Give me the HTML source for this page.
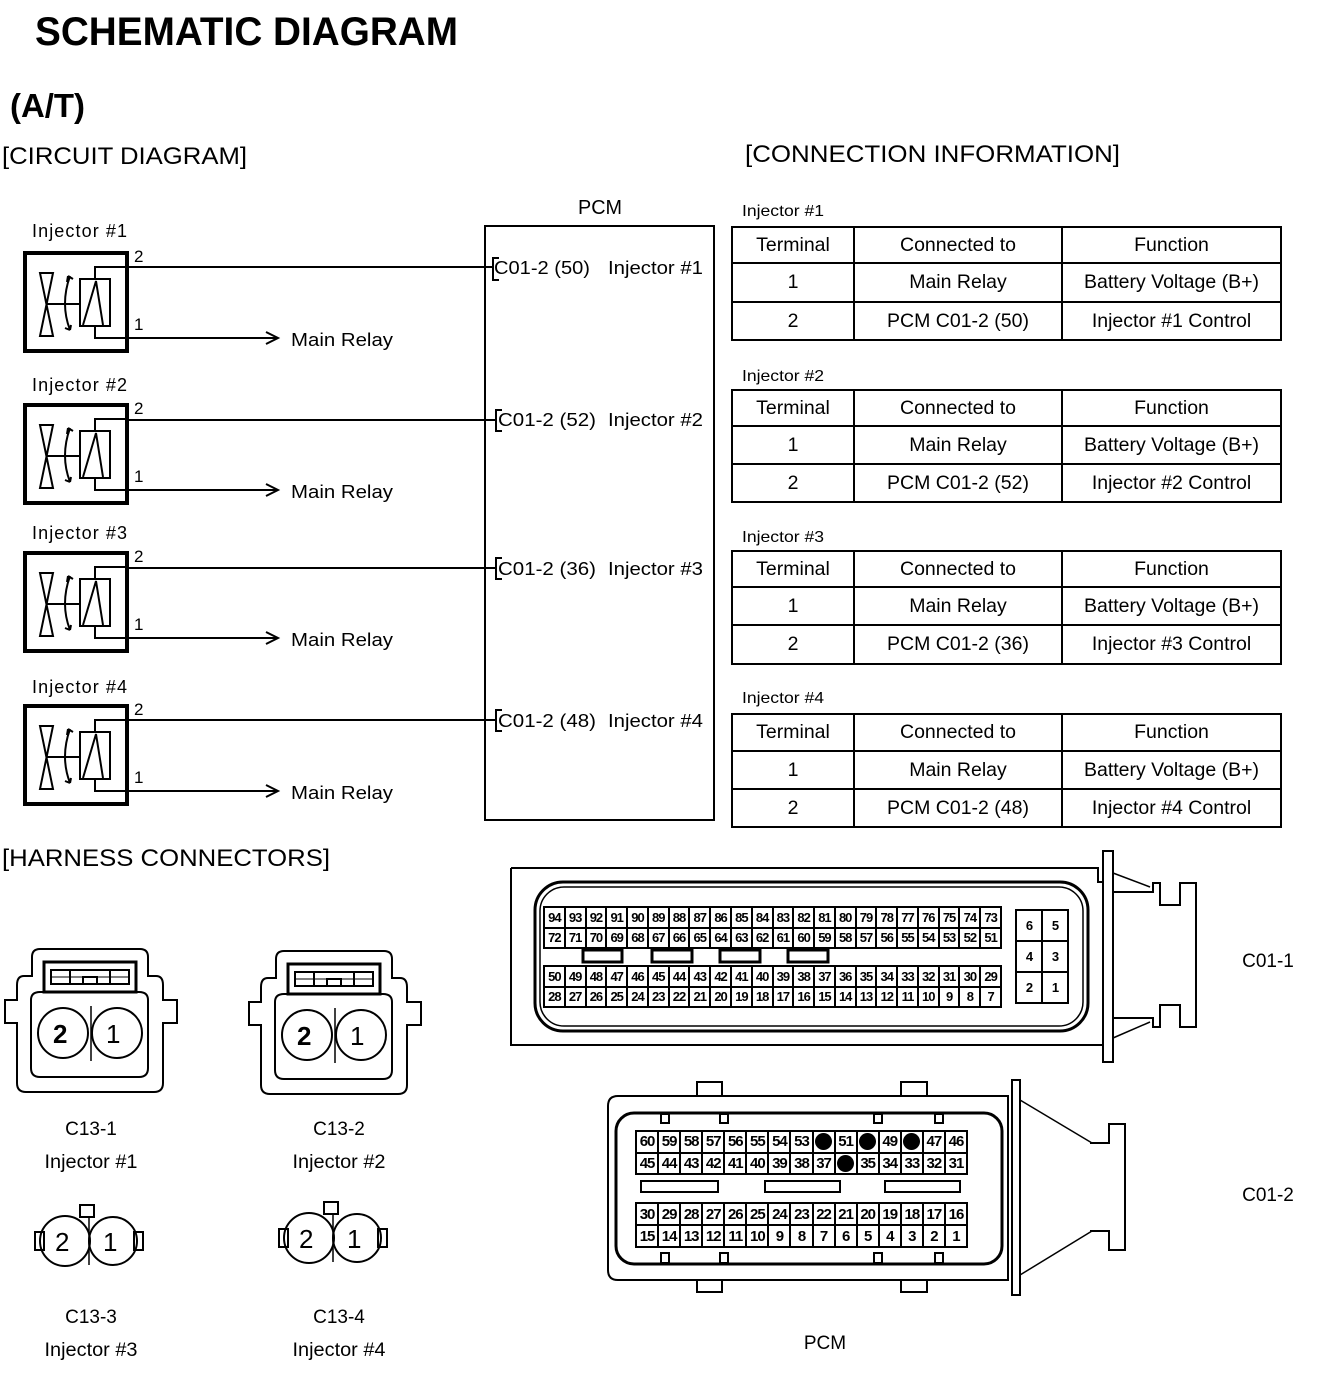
<!DOCTYPE html>
<html><head><meta charset="utf-8"><style>
html,body{margin:0;padding:0;background:#fff;}
body{width:1328px;height:1388px;position:relative;overflow:hidden;font-family:"Liberation Sans",Arial,sans-serif;}
svg{position:absolute;left:0;top:0;}
.g{position:absolute;display:grid;border-left:2px solid #000;border-top:2px solid #000;box-sizing:border-box;}
.g span{border-right:2px solid #000;border-bottom:2px solid #000;display:flex;align-items:center;justify-content:center;font-size:13px;letter-spacing:-1px;font-weight:bold;overflow:hidden;}
.g.b span{font-size:15px;}
.g span i{display:block;width:17px;height:17px;border-radius:50%;background:#000;}
table.t{position:absolute;left:731px;width:551px;border-collapse:collapse;font-size:19.5px;}
table.t td{border:2px solid #000;text-align:center;padding:0;}
</style></head><body>
<svg width="1328" height="1388" viewBox="0 0 1328 1388" font-family="Liberation Sans, Arial, sans-serif">
<text x="35" y="45" font-size="40" font-weight="bold" textLength="423" lengthAdjust="spacingAndGlyphs">SCHEMATIC DIAGRAM</text>
<text x="10" y="117" font-size="33" font-weight="bold" textLength="75" lengthAdjust="spacingAndGlyphs">(A/T)</text>
<text x="2" y="164" font-size="24" textLength="245" lengthAdjust="spacingAndGlyphs">[CIRCUIT DIAGRAM]</text>
<text x="745" y="162" font-size="24" textLength="375" lengthAdjust="spacingAndGlyphs">[CONNECTION INFORMATION]</text>
<text x="2" y="866" font-size="24" textLength="328" lengthAdjust="spacingAndGlyphs">[HARNESS CONNECTORS]</text>

<text x="578" y="214" font-size="20" textLength="44" lengthAdjust="spacingAndGlyphs">PCM</text>
<rect x="485" y="226" width="229" height="594" fill="none" stroke="#000" stroke-width="2"/>

<defs>
<g id="inj">
<rect x="25" y="253" width="102" height="98" fill="none" stroke="#000" stroke-width="4"/>
<polygon points="40,273 53,273 40,336 53,336" fill="none" stroke="#000" stroke-width="2"/>
<line x1="46" y1="304" x2="80" y2="304" stroke="#000" stroke-width="2"/>
<path d="M70,276 Q60,304 70,330" fill="none" stroke="#000" stroke-width="2"/>
<path d="M68,276 l-1,6 M68,276 l5,3 M70,330 l-5,-2 M70,330 l1,-5" stroke="#000" stroke-width="2"/>
<rect x="80" y="279" width="30" height="47" fill="none" stroke="#000" stroke-width="2"/>
<polyline points="83,325 96,281 103,325" fill="none" stroke="#000" stroke-width="2"/>
<polyline points="95,279 95,267 127,267" fill="none" stroke="#000" stroke-width="2"/>
<polyline points="95,326 95,338 278,338" fill="none" stroke="#000" stroke-width="2"/>
<polyline points="266,332 278,338 266,344" fill="none" stroke="#000" stroke-width="2"/>
<text x="134" y="262" font-size="17">2</text>
<text x="134" y="330" font-size="17">1</text>
<text x="291" y="346" font-size="18" textLength="102" lengthAdjust="spacingAndGlyphs">Main Relay</text>
</g>
</defs>
<use href="#inj"/>
<use href="#inj" transform="translate(0,152)"/>
<use href="#inj" transform="translate(0,300)"/>
<use href="#inj" transform="translate(0,453)"/>
<g font-size="18" lengthAdjust="spacingAndGlyphs">
<text x="32" y="237" textLength="95">Injector #1</text>
<text x="32" y="391" textLength="95">Injector #2</text>
<text x="32" y="539" textLength="95">Injector #3</text>
<text x="32" y="693" textLength="95">Injector #4</text>
</g>

<g stroke="#000" stroke-width="2" fill="none">
<line x1="127" y1="267" x2="493" y2="267"/>
<line x1="127" y1="420" x2="496" y2="420"/>
<line x1="127" y1="568" x2="496" y2="568"/>
<line x1="127" y1="720" x2="496" y2="720"/>
<polyline points="499,258 493,258 493,280 499,280"/>
<polyline points="502,410 496,410 496,431 502,431"/>
<polyline points="502,558 496,558 496,579 502,579"/>
<polyline points="502,710 496,710 496,731 502,731"/>
</g>
<g font-size="18">
<text x="494" y="274" textLength="96" lengthAdjust="spacingAndGlyphs">C01-2 (50)</text><text x="608" y="274" textLength="95" lengthAdjust="spacingAndGlyphs">Injector #1</text>
<text x="498" y="426" textLength="98" lengthAdjust="spacingAndGlyphs">C01-2 (52)</text><text x="608" y="426" textLength="95" lengthAdjust="spacingAndGlyphs">Injector #2</text>
<text x="498" y="575" textLength="98" lengthAdjust="spacingAndGlyphs">C01-2 (36)</text><text x="608" y="575" textLength="95" lengthAdjust="spacingAndGlyphs">Injector #3</text>
<text x="498" y="727" textLength="98" lengthAdjust="spacingAndGlyphs">C01-2 (48)</text><text x="608" y="727" textLength="95" lengthAdjust="spacingAndGlyphs">Injector #4</text>
</g>

<g font-size="16">
<text x="742" y="216" textLength="82" lengthAdjust="spacingAndGlyphs">Injector #1</text>
<text x="742" y="381" textLength="82" lengthAdjust="spacingAndGlyphs">Injector #2</text>
<text x="742" y="542" textLength="82" lengthAdjust="spacingAndGlyphs">Injector #3</text>
<text x="742" y="703" textLength="82" lengthAdjust="spacingAndGlyphs">Injector #4</text>
</g>

<defs>
<g id="big">
<path d="M40,949 L140,949 Q148,949 148,957 L148,976 L156,976 Q163,976 163,985 L163,1000 L177,1000 L177,1023 L163,1023 L163,1083 Q163,1092 154,1092 L26,1092 Q17,1092 17,1083 L17,1023 L5,1023 L5,1000 L17,1000 L17,985 Q17,976 24,976 L32,976 L32,957 Q32,949 40,949 Z" fill="none" stroke="#000" stroke-width="2"/>
<path d="M44,992 L40,992 Q31,992 31,1000 L31,1068 Q31,1077 40,1077 L139,1077 Q148,1077 148,1068 L148,1000 Q148,992 139,992 L136,992" fill="none" stroke="#000" stroke-width="2"/>
<rect x="44" y="962" width="92" height="30" fill="none" stroke="#000" stroke-width="3"/>
<rect x="51" y="970" width="78" height="14" fill="none" stroke="#000" stroke-width="2"/>
<line x1="70" y1="970" x2="70" y2="984" stroke="#000" stroke-width="2"/>
<line x1="110" y1="970" x2="110" y2="984" stroke="#000" stroke-width="2"/>
<rect x="83" y="977" width="14" height="7" fill="none" stroke="#000" stroke-width="2"/>
<line x1="51" y1="977" x2="129" y2="977" stroke="#000" stroke-width="1"/>
<circle cx="63" cy="1033" r="25" fill="none" stroke="#000" stroke-width="2"/>
<circle cx="117" cy="1033" r="25" fill="none" stroke="#000" stroke-width="2"/>
<line x1="91" y1="1006" x2="91" y2="1061" stroke="#000" stroke-width="1.5"/>
<text x="53" y="1043" font-size="26" font-weight="bold">2</text>
<text x="106" y="1043" font-size="26">1</text>
</g>
<g id="small">
<circle cx="65" cy="1241" r="25" fill="none" stroke="#000" stroke-width="2"/>
<circle cx="113" cy="1241" r="24" fill="none" stroke="#000" stroke-width="2"/>
<rect x="35" y="1232" width="9" height="18" fill="none" stroke="#000" stroke-width="2"/>
<rect x="134" y="1232" width="9" height="18" fill="none" stroke="#000" stroke-width="2"/>
<rect x="80" y="1205" width="14" height="12" fill="none" stroke="#000" stroke-width="2"/>
<line x1="89" y1="1217" x2="89" y2="1265" stroke="#000" stroke-width="1.5"/>
<text x="55" y="1251" font-size="26">2</text>
<text x="103" y="1251" font-size="26">1</text>
</g>
</defs>
<use href="#big"/>
<use href="#big" transform="translate(244,2)"/>
<use href="#small"/>
<use href="#small" transform="translate(244,-3)"/>
<g font-size="19" text-anchor="middle">
<text x="91" y="1135">C13-1</text><text x="91" y="1168" textLength="93" lengthAdjust="spacingAndGlyphs">Injector #1</text>
<text x="339" y="1135">C13-2</text><text x="339" y="1168" textLength="93" lengthAdjust="spacingAndGlyphs">Injector #2</text>
<text x="91" y="1323">C13-3</text><text x="91" y="1356" textLength="93" lengthAdjust="spacingAndGlyphs">Injector #3</text>
<text x="339" y="1323">C13-4</text><text x="339" y="1356" textLength="93" lengthAdjust="spacingAndGlyphs">Injector #4</text>
<text x="825" y="1349">PCM</text>
<text x="1268" y="967">C01-1</text>
<text x="1268" y="1201">C01-2</text>
</g>

<g stroke="#000" fill="none">
<path d="M511,868 L1098,868 L1098,882 L1103,882 M511,868 L511,1045 L1103,1045" stroke-width="2"/>
<rect x="535" y="882" width="553" height="149" rx="28" stroke-width="3"/>
<rect x="540" y="887" width="543" height="139" rx="24" stroke-width="1.5"/>
<rect x="1103" y="851" width="10" height="211" stroke-width="2"/>
<path d="M1113,892 L1153,892 L1153,883 L1160,883 L1160,905 L1180,905 L1180,883 L1196,883 L1196,1027 L1180,1027 L1180,1005 L1160,1005 L1160,1027 L1153,1027 L1153,1018 L1113,1018" stroke-width="2"/>
<line x1="1113" y1="873" x2="1150" y2="887" stroke-width="1.5"/>
<line x1="1113" y1="1038" x2="1150" y2="1022" stroke-width="1.5"/>
<rect x="583" y="950" width="39" height="12" stroke-width="3"/>
<rect x="652" y="950" width="40" height="12" stroke-width="3"/>
<rect x="720" y="950" width="40" height="12" stroke-width="3"/>
<rect x="788" y="950" width="40" height="12" stroke-width="3"/>
</g>

<g stroke="#000" fill="none">
<rect x="697" y="1082" width="25" height="16" stroke-width="2"/>
<rect x="901" y="1082" width="26" height="16" stroke-width="2"/>
<rect x="697" y="1278" width="25" height="14" stroke-width="2"/>
<rect x="901" y="1278" width="26" height="14" stroke-width="2"/>
<path d="M618,1096 L1008,1096 L1008,1280 L618,1280 Q608,1280 608,1270 L608,1106 Q608,1096 618,1096 Z" stroke-width="2" fill="#fff"/>
<rect x="616" y="1113" width="386" height="151" rx="18" stroke-width="3"/>
<rect x="1012" y="1080" width="8" height="215" stroke-width="2"/>
<line x1="1020" y1="1100" x2="1092" y2="1143" stroke-width="1.5"/>
<line x1="1020" y1="1275" x2="1092" y2="1231" stroke-width="1.5"/>
<path d="M1090,1143 L1109,1143 L1109,1124 L1125,1124 L1125,1250 L1109,1250 L1109,1231 L1090,1231" stroke-width="2"/>
<rect x="661" y="1114" width="8" height="9" stroke-width="2"/>
<rect x="720" y="1114" width="8" height="9" stroke-width="2"/>
<rect x="874" y="1114" width="8" height="9" stroke-width="2"/>
<rect x="935" y="1114" width="8" height="9" stroke-width="2"/>
<rect x="661" y="1253" width="8" height="10" stroke-width="2"/>
<rect x="720" y="1253" width="8" height="10" stroke-width="2"/>
<rect x="874" y="1253" width="8" height="10" stroke-width="2"/>
<rect x="935" y="1253" width="8" height="10" stroke-width="2"/>
<rect x="641" y="1181" width="77" height="11" stroke-width="2"/>
<rect x="765" y="1181" width="75" height="11" stroke-width="2"/>
<rect x="885" y="1181" width="75" height="11" stroke-width="2"/>
</g>
</svg>

<div class="g" style="left:543px;top:906px;width:459px;height:43px;grid-template-columns:repeat(22,1fr);grid-template-rows:1fr 1fr;">
<span>94</span><span>93</span><span>92</span><span>91</span><span>90</span><span>89</span><span>88</span><span>87</span><span>86</span><span>85</span><span>84</span><span>83</span><span>82</span><span>81</span><span>80</span><span>79</span><span>78</span><span>77</span><span>76</span><span>75</span><span>74</span><span>73</span>
<span>72</span><span>71</span><span>70</span><span>69</span><span>68</span><span>67</span><span>66</span><span>65</span><span>64</span><span>63</span><span>62</span><span>61</span><span>60</span><span>59</span><span>58</span><span>57</span><span>56</span><span>55</span><span>54</span><span>53</span><span>52</span><span>51</span>
</div>
<div class="g" style="left:543px;top:965px;width:459px;height:43px;grid-template-columns:repeat(22,1fr);grid-template-rows:1fr 1fr;">
<span>50</span><span>49</span><span>48</span><span>47</span><span>46</span><span>45</span><span>44</span><span>43</span><span>42</span><span>41</span><span>40</span><span>39</span><span>38</span><span>37</span><span>36</span><span>35</span><span>34</span><span>33</span><span>32</span><span>31</span><span>30</span><span>29</span>
<span>28</span><span>27</span><span>26</span><span>25</span><span>24</span><span>23</span><span>22</span><span>21</span><span>20</span><span>19</span><span>18</span><span>17</span><span>16</span><span>15</span><span>14</span><span>13</span><span>12</span><span>11</span><span>10</span><span>9</span><span>8</span><span>7</span>
</div>
<div class="g" style="left:1015px;top:909px;width:54px;height:95px;grid-template-columns:1fr 1fr;grid-template-rows:1fr 1fr 1fr;">
<span>6</span><span>5</span><span>4</span><span>3</span><span>2</span><span>1</span>
</div>
<div class="g b" style="left:635px;top:1130px;width:333px;height:45px;grid-template-columns:repeat(15,1fr);grid-template-rows:1fr 1fr;">
<span>60</span><span>59</span><span>58</span><span>57</span><span>56</span><span>55</span><span>54</span><span>53</span><span><i></i></span><span>51</span><span><i></i></span><span>49</span><span><i></i></span><span>47</span><span>46</span>
<span>45</span><span>44</span><span>43</span><span>42</span><span>41</span><span>40</span><span>39</span><span>38</span><span>37</span><span><i></i></span><span>35</span><span>34</span><span>33</span><span>32</span><span>31</span>
</div>
<div class="g b" style="left:635px;top:1202px;width:333px;height:46px;grid-template-columns:repeat(15,1fr);grid-template-rows:1fr 1fr;">
<span>30</span><span>29</span><span>28</span><span>27</span><span>26</span><span>25</span><span>24</span><span>23</span><span>22</span><span>21</span><span>20</span><span>19</span><span>18</span><span>17</span><span>16</span>
<span>15</span><span>14</span><span>13</span><span>12</span><span>11</span><span>10</span><span>9</span><span>8</span><span>7</span><span>6</span><span>5</span><span>4</span><span>3</span><span>2</span><span>1</span>
</div>

<table class="t" style="top:226px;"><colgroup><col style="width:122px"><col style="width:208px"><col></colgroup>
<tr style="height:36px"><td>Terminal</td><td>Connected to</td><td>Function</td></tr>
<tr style="height:39px"><td>1</td><td>Main Relay</td><td>Battery Voltage (B+)</td></tr>
<tr style="height:38px"><td>2</td><td>PCM C01-2 (50)</td><td>Injector #1 Control</td></tr></table>
<table class="t" style="top:389px;"><colgroup><col style="width:122px"><col style="width:208px"><col></colgroup>
<tr style="height:36px"><td>Terminal</td><td>Connected to</td><td>Function</td></tr>
<tr style="height:38px"><td>1</td><td>Main Relay</td><td>Battery Voltage (B+)</td></tr>
<tr style="height:38px"><td>2</td><td>PCM C01-2 (52)</td><td>Injector #2 Control</td></tr></table>
<table class="t" style="top:550px;"><colgroup><col style="width:122px"><col style="width:208px"><col></colgroup>
<tr style="height:36px"><td>Terminal</td><td>Connected to</td><td>Function</td></tr>
<tr style="height:38px"><td>1</td><td>Main Relay</td><td>Battery Voltage (B+)</td></tr>
<tr style="height:39px"><td>2</td><td>PCM C01-2 (36)</td><td>Injector #3 Control</td></tr></table>
<table class="t" style="top:713px;"><colgroup><col style="width:122px"><col style="width:208px"><col></colgroup>
<tr style="height:37px"><td>Terminal</td><td>Connected to</td><td>Function</td></tr>
<tr style="height:38px"><td>1</td><td>Main Relay</td><td>Battery Voltage (B+)</td></tr>
<tr style="height:38px"><td>2</td><td>PCM C01-2 (48)</td><td>Injector #4 Control</td></tr></table>
</body></html>
